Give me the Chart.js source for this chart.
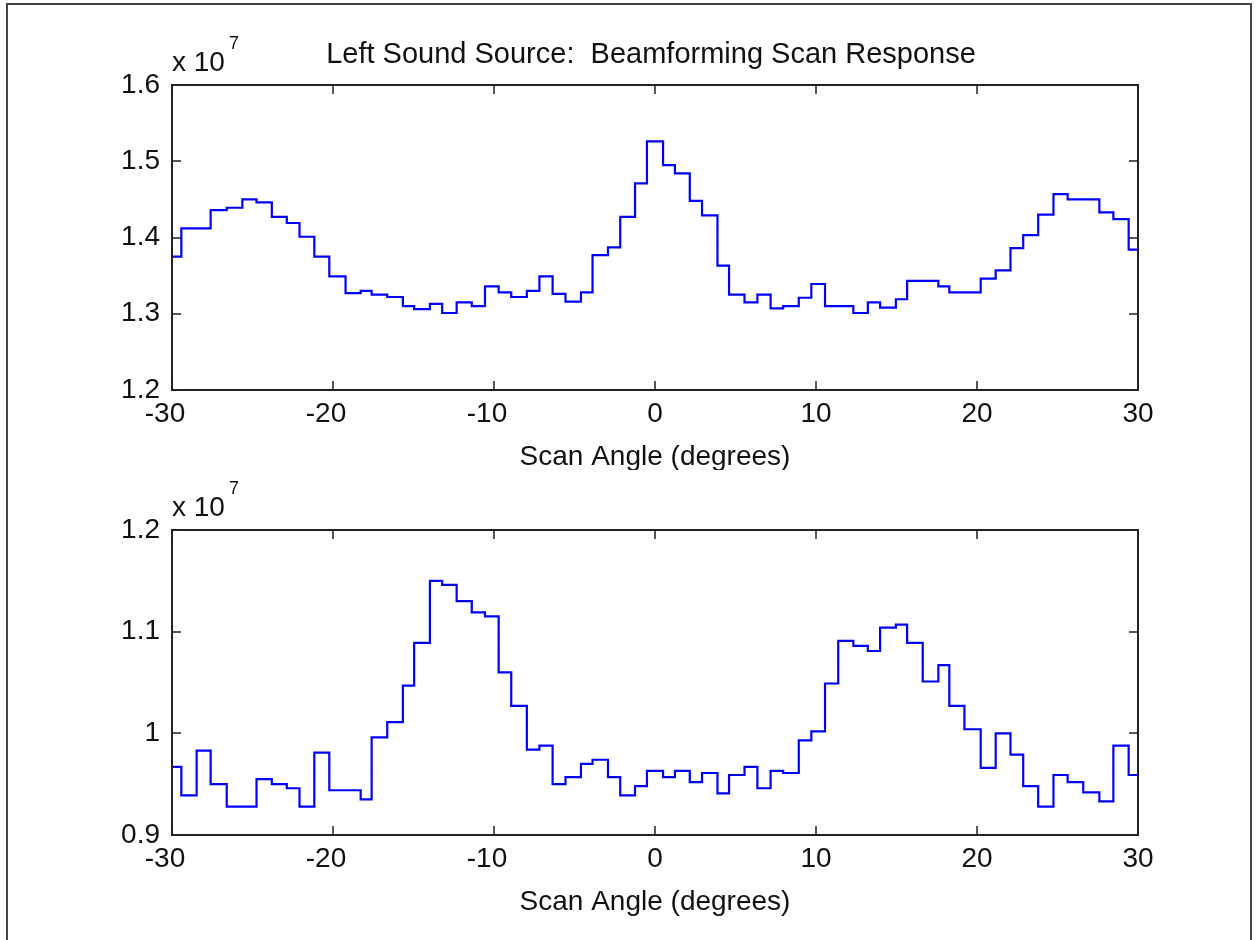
<!DOCTYPE html>
<html>
<head>
<meta charset="utf-8">
<script src="https://cdn.jsdelivr.net/npm/chart.js@4.4.0/dist/chart.umd.min.js"></script>
<style>
  body { margin: 0; background: #fff; overflow: hidden; }
  #frame { position: absolute; left: 6px; top: 3px; width: 1246px; height: 1000px; border: 2px solid #444; box-sizing: border-box; }
  canvas { position: absolute; left: 0; }
  #upper { top: 0; }
  #lower { top: 470px; }
</style>
</head>
<body>
<div id="frame"></div>
<canvas id="upper" width="1257" height="470"></canvas>
<canvas id="lower" width="1257" height="470"></canvas>
<script>
// scan angle (degrees) at which each held output segment starts
const segmentStarts = [-30, -29.42, -28.47, -27.6, -26.6, -25.63, -24.75, -23.8, -22.87, -22.08,
  -21.16, -20.23, -19.22, -18.28, -17.6, -16.63, -15.66, -14.96, -13.98, -13.22,
  -12.32, -11.38, -10.56, -9.71, -8.93, -7.96, -7.18, -6.36, -5.56, -4.6,
  -3.88, -2.92, -2.16, -1.24, -0.5, 0.5, 1.24, 2.16, 2.92, 3.88,
  4.6, 5.56, 6.36, 7.18, 7.96, 8.93, 9.71, 10.56, 11.38, 12.32,
  13.22, 13.98, 14.96, 15.66, 16.63, 17.6, 18.28, 19.22, 20.23, 21.16,
  22.08, 22.87, 23.8, 24.75, 25.63, 26.6, 27.6, 28.47, 29.42];
const scanEnd = 30;

// beamformer output power, units of 1e7
const upperResponse = [1.375, 1.412, 1.412, 1.436, 1.439, 1.450, 1.446, 1.427, 1.419, 1.401,
  1.375, 1.349, 1.327, 1.330, 1.325, 1.322, 1.310, 1.306, 1.313, 1.301,
  1.315, 1.310, 1.336, 1.328, 1.322, 1.330, 1.349, 1.326, 1.316, 1.328,
  1.377, 1.387, 1.427, 1.471, 1.526, 1.495, 1.484, 1.448, 1.429, 1.363,
  1.325, 1.315, 1.325, 1.307, 1.310, 1.321, 1.339, 1.310, 1.310, 1.301,
  1.315, 1.308, 1.319, 1.343, 1.343, 1.336, 1.328, 1.328, 1.346, 1.357,
  1.386, 1.403, 1.430, 1.457, 1.450, 1.450, 1.433, 1.424, 1.384];
const lowerResponse = [0.967, 0.939, 0.983, 0.950, 0.928, 0.928, 0.955, 0.950, 0.946, 0.928,
  0.981, 0.944, 0.944, 0.935, 0.996, 1.011, 1.047, 1.089, 1.150, 1.146,
  1.130, 1.119, 1.115, 1.060, 1.027, 0.984, 0.988, 0.950, 0.957, 0.970,
  0.974, 0.957, 0.939, 0.948, 0.963, 0.957, 0.963, 0.952, 0.961, 0.941,
  0.959, 0.967, 0.946, 0.963, 0.961, 0.993, 1.002, 1.049, 1.091, 1.086,
  1.081, 1.104, 1.107, 1.089, 1.051, 1.067, 1.027, 1.004, 0.966, 1.000,
  0.979, 0.948, 0.928, 0.959, 0.952, 0.942, 0.933, 0.988, 0.959];

const angleTicks = [-30, -20, -10, 0, 10, 20, 30];
const upperTicks = [1.2, 1.3, 1.4, 1.5, 1.6];
const lowerTicks = [0.9, 1.0, 1.1, 1.2];

const FONT = '"Liberation Sans", Arial, sans-serif';
const INK = '#111';

// box, inward tick marks, exponent and axis labels drawn the MATLAB way
const matlabAxes = {
  id: 'matlabAxes',
  afterDraw(chart, args, opts) {
    const { ctx, chartArea: a, scales: { x, y } } = chart;
    ctx.save();
    ctx.strokeStyle = '#222';
    ctx.lineWidth = 2;
    ctx.strokeRect(a.left, a.top, a.right - a.left, a.bottom - a.top);
    ctx.lineWidth = 1.5;
    ctx.beginPath();
    x.ticks.forEach(t => {
      const px = Math.round(x.getPixelForValue(t.value));
      ctx.moveTo(px, a.bottom); ctx.lineTo(px, a.bottom - 9);
      ctx.moveTo(px, a.top); ctx.lineTo(px, a.top + 9);
    });
    y.ticks.forEach(t => {
      const py = Math.round(y.getPixelForValue(t.value));
      ctx.moveTo(a.left, py); ctx.lineTo(a.left + 9, py);
      ctx.moveTo(a.right, py); ctx.lineTo(a.right - 9, py);
    });
    ctx.stroke();

    ctx.fillStyle = INK;
    ctx.textAlign = 'left';
    ctx.textBaseline = 'alphabetic';
    ctx.font = '28px ' + FONT;
    ctx.fillText('x 10', a.left, a.top - 14);
    const w = ctx.measureText('x 10').width;
    ctx.font = '18px ' + FONT;
    ctx.fillText('7', a.left + w + 4, a.top - 36);

    ctx.font = '28px ' + FONT;
    ctx.textAlign = 'center';
    const cx = (a.left + a.right) / 2;
    ctx.fillText('Scan Angle (degrees)', cx, a.bottom + 75);
    if (opts.title) {
      ctx.font = '29px ' + FONT;
      ctx.fillText(opts.title, cx - 4, a.top - 22);
    }
    ctx.restore();
  }
};

function scanChart(id, values, yTicks, padTop, axisHeight, title) {
  const points = segmentStarts.map((a, i) => ({ x: a, y: values[i] }));
  points.push({ x: scanEnd, y: values[values.length - 1] });

  return new Chart(document.getElementById(id), {
    type: 'line',
    data: {
      datasets: [{
        data: points,
        borderColor: '#0000ff',
        borderWidth: 2.2,
        pointRadius: 0,
        stepped: 'before',
        fill: false
      }]
    },
    options: {
      responsive: false,
      animation: false,
      devicePixelRatio: 1,
      layout: { padding: { top: padTop, right: 119, left: 0, bottom: 0 } },
      plugins: {
        legend: { display: false },
        tooltip: { enabled: false },
        matlabAxes: { title: title }
      },
      scales: {
        x: {
          type: 'linear',
          min: angleTicks[0],
          max: angleTicks[angleTicks.length - 1],
          afterBuildTicks: s => { s.ticks = angleTicks.map(v => ({ value: v })); },
          afterFit: s => { s.height = axisHeight; },
          grid: { display: false, drawTicks: false },
          border: { display: false },
          ticks: {
            autoSkip: false,
            maxRotation: 0,
            padding: 7,
            color: INK,
            font: { family: FONT, size: 28 },
            // MATLAB lets the minus sign hang to the left of the digits
            callback: v => v < 0 ? v + '\u2002' : String(v)
          }
        },
        y: {
          min: yTicks[0],
          max: yTicks[yTicks.length - 1],
          afterBuildTicks: s => { s.ticks = yTicks.map(v => ({ value: v })); },
          afterFit: s => { s.width = 172; },
          grid: { display: false, drawTicks: false },
          border: { display: false },
          ticks: {
            padding: 12,
            color: INK,
            font: { family: FONT, size: 28 },
            callback: v => String(Number(v.toFixed(2)))
          }
        }
      }
    },
    plugins: [matlabAxes]
  });
}

scanChart('upper', upperResponse, upperTicks, 85, 80, 'Left Sound Source:  Beamforming Scan Response');
scanChart('lower', lowerResponse, lowerTicks, 60, 105, null);
</script>
</body>
</html>
